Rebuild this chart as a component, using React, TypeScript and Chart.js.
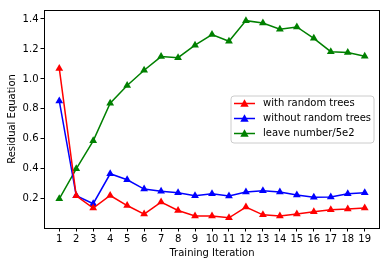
import React, { useEffect, useRef } from "react";
import { Chart, registerables } from "chart.js";

Chart.register(...registerables);

const iterations = [1, 2, 3, 4, 5, 6, 7, 8, 9, 10, 11, 12, 13, 14, 15, 16, 17, 18, 19];
const withRandomTrees = [1.07, 0.22, 0.138, 0.222, 0.155, 0.098, 0.178, 0.122, 0.085, 0.085, 0.073, 0.145, 0.093, 0.085, 0.098, 0.113, 0.127, 0.131, 0.138];
const withoutRandomTrees = [0.853, 0.22, 0.167, 0.367, 0.327, 0.265, 0.25, 0.24, 0.22, 0.233, 0.218, 0.245, 0.253, 0.245, 0.225, 0.21, 0.212, 0.233, 0.24];
const leaveNumber = [0.2, 0.4, 0.587, 0.838, 0.956, 1.058, 1.149, 1.142, 1.225, 1.296, 1.251, 1.389, 1.373, 1.331, 1.347, 1.271, 1.182, 1.176, 1.151];
const seriesLabels = ["with random trees", "without random trees", "leave number/5e2"];
const seriesColors = ["#ff0000", "#0000ff", "#008000"];
const yTicks = [0.2, 0.4, 0.6, 0.8, 1.0, 1.2, 1.4];
const xLabel = "Training Iteration";
const yLabel = "Residual Equation";

const FONT = "'DejaVu Sans', sans-serif";

const framePlugin = {
  id: "frame",
  afterDatasetsDraw(chart: any) {
    const { ctx, chartArea } = chart;
    const l = Math.round(chartArea.left), t = Math.round(chartArea.top);
    const rr = Math.round(chartArea.right), b = Math.round(chartArea.bottom);
    ctx.save();
    ctx.strokeStyle = "#000";
    ctx.lineWidth = 1;
    ctx.strokeRect(l + 0.5, t + 0.5, rr - l - 1, b - t);
    ctx.restore();

    // legend
    const bx = 231, by = 96, bw = 143, bh = 47, r = 3;
    ctx.save();
    ctx.beginPath();
    ctx.moveTo(bx + r, by);
    ctx.lineTo(bx + bw - r, by);
    ctx.quadraticCurveTo(bx + bw, by, bx + bw, by + r);
    ctx.lineTo(bx + bw, by + bh - r);
    ctx.quadraticCurveTo(bx + bw, by + bh, bx + bw - r, by + bh);
    ctx.lineTo(bx + r, by + bh);
    ctx.quadraticCurveTo(bx, by + bh, bx, by + bh - r);
    ctx.lineTo(bx, by + r);
    ctx.quadraticCurveTo(bx, by, bx + r, by);
    ctx.closePath();
    ctx.fillStyle = "rgba(255,255,255,0.8)";
    ctx.fill();
    ctx.strokeStyle = "#cccccc";
    ctx.lineWidth = 1;
    ctx.stroke();
    ctx.font = "10px " + FONT;
    ctx.textBaseline = "middle";
    ctx.textAlign = "left";
    seriesLabels.forEach((lab, i) => {
      const y = 103.5 + i * 15;
      ctx.strokeStyle = seriesColors[i];
      ctx.lineWidth = 1.5;
      ctx.beginPath();
      ctx.moveTo(234, y);
      ctx.lineTo(255, y);
      ctx.stroke();
      const s = 4.2;
      ctx.fillStyle = seriesColors[i];
      ctx.beginPath();
      ctx.moveTo(244.5, y - s);
      ctx.lineTo(244.5 + s, y + s * 0.75);
      ctx.lineTo(244.5 - s, y + s * 0.75);
      ctx.closePath();
      ctx.fill();
      ctx.fillStyle = "#000";
      ctx.fillText(lab, 263, y);
    });
    ctx.restore();
  },
};

export default function App() {
  const ref = useRef<HTMLCanvasElement>(null);
  useEffect(() => {
    document.body.style.margin = "0";
    const series = [withRandomTrees, withoutRandomTrees, leaveNumber];
    const chart = new Chart(ref.current as HTMLCanvasElement, {
      type: "line",
      data: {
        datasets: series.map((vals, i) => ({
          label: seriesLabels[i],
          data: iterations.map((x, j) => ({ x, y: vals[j] })),
          borderColor: seriesColors[i],
          backgroundColor: seriesColors[i],
          borderWidth: 1.5,
          pointStyle: "triangle",
          pointRadius: 4.5,
          pointBorderWidth: 0,
          tension: 0,
        })),
      },
      options: {
        responsive: false,
        animation: false,
        events: [],
        layout: { padding: { top: 10, right: 9, left: 0, bottom: 0 } },
        plugins: { legend: { display: false }, tooltip: { enabled: false } },
        scales: {
          x: {
            type: "linear",
            min: 0.1,
            max: 19.9,
            afterFit: (s: any) => { s.height = 38; },
            afterBuildTicks: (s: any) => { s.ticks = iterations.map((v) => ({ value: v })); },
            grid: { display: true, drawOnChartArea: false, drawTicks: true, tickLength: 3.5, tickColor: "#000", tickWidth: 1 },
            border: { display: false },
            ticks: { color: "#000", font: { family: FONT, size: 10 }, padding: 2, maxRotation: 0, autoSkip: false, callback: (v: any) => String(v) },
            title: { display: true, text: xLabel, color: "#000", font: { family: FONT, size: 10 }, padding: { top: 0, bottom: 7 } },
          },
          y: {
            type: "linear",
            min: 0.005,
            max: 1.46,
            afterFit: (s: any) => { s.width = 44; },
            afterBuildTicks: (s: any) => { s.ticks = yTicks.map((v) => ({ value: v })); },
            grid: { display: true, drawOnChartArea: false, drawTicks: true, tickLength: 3.5, tickColor: "#000", tickWidth: 1 },
            border: { display: false },
            ticks: { color: "#000", font: { family: FONT, size: 10 }, padding: 2, callback: (v: any) => Number(v).toFixed(1) },
            title: { display: true, text: yLabel, color: "#000", font: { family: FONT, size: 10 }, padding: { top: 6, bottom: 0 } },
          },
        },
      },
      plugins: [framePlugin],
    } as any);
    return () => chart.destroy();
  }, []);
  return <canvas ref={ref} width={389} height={266} style={{ display: "block" }} />;
}
